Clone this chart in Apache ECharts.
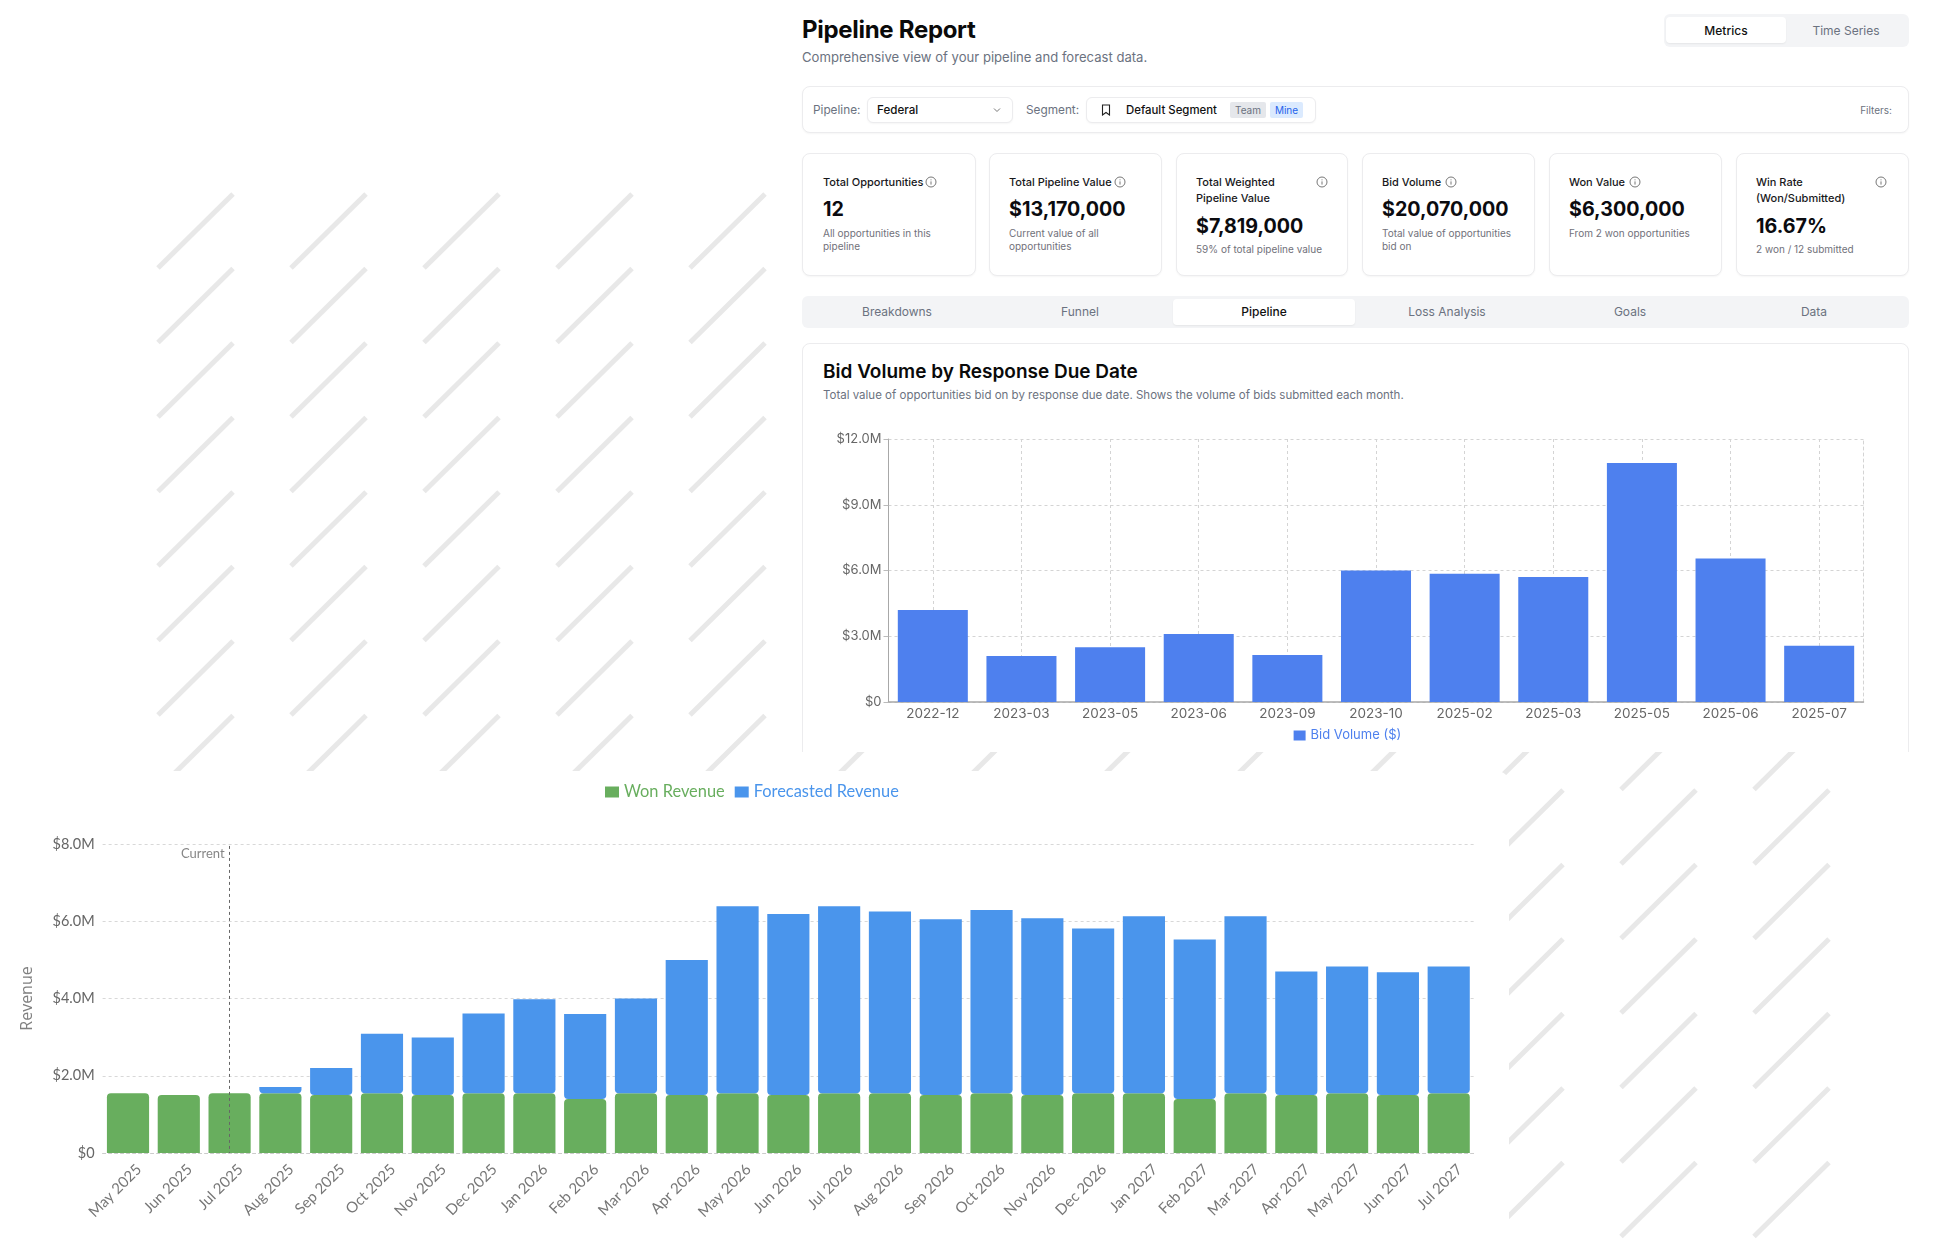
<!DOCTYPE html>
<html>
<head>
<meta charset="utf-8">
<title>Pipeline Report</title>
<script src="https://cdn.jsdelivr.net/npm/echarts@6/dist/echarts.min.js"></script>
<style>
  html, body { margin: 0; padding: 0; background: #fff; }
  body { position: relative; width: 1956px; height: 1248px; overflow: hidden; font-family: Inter, "Noto Sans", sans-serif; color: #111; }
  .abs, .abs > * { position: absolute; }
  .abs { box-sizing: border-box; }
  #stripes { position: absolute; left: 0; top: 0; }
  #topPanel { left: 770px; top: 0; width: 1186px; height: 752px; background: #fff; }
  #bottomPanel { left: 0; top: 771px; width: 1509px; height: 477px; background: #fff; border-radius: 12px; }
  .t { position: absolute; white-space: nowrap; line-height: 1; }
  .box { position: absolute; box-sizing: border-box; background: #fff; border: 1px solid #ececee; border-radius: 8px; box-shadow: 0 1px 2px rgba(0,0,0,.04); }
  .grey { position: absolute; background: #f3f4f6; border-radius: 6px; }
  .on { position: absolute; background: #fff; border-radius: 4px; box-shadow: 0 1px 2px rgba(0,0,0,.06); }
  .c { transform: translateX(-50%); }
  .card-title { font-size: 11px; font-weight: 500; color: #18181b; line-height: 16px; white-space: normal; }
  .card-value { font-size: 19.7px; font-weight: 700; color: #0b0b0f; }
  .card-sub { font-size: 10px; color: #71717a; line-height: 13px; white-space: normal; }
  svg.i { position: absolute; width: 12px; height: 12px; }
</style>
</head>
<body>
<svg id="stripes" width="1956" height="1248"></svg>

<div id="topPanel" class="abs"></div>

<!-- 页头 -->
<div class="t" style="left:802px;top:17px;font-size:24px;font-weight:700;letter-spacing:-.3px;line-height:26px;color:#0a0a0a">Pipeline Report</div>
<div class="t" style="left:802px;top:50px;font-size:13.1px;color:#6b7280;line-height:15px">Comprehensive view of your pipeline and forecast data.</div>
<div class="grey" style="left:1664px;top:14px;width:245px;height:33px"></div>
<div class="on" style="left:1666px;top:17px;width:120px;height:26px"></div>
<div class="t c" style="left:1726px;top:25px;font-size:12px;font-weight:500">Metrics</div>
<div class="t c" style="left:1846px;top:25px;font-size:12px;color:#6b7280">Time Series</div>

<!-- 筛选栏 -->
<div class="box" style="left:802px;top:86px;width:1107px;height:47px"></div>
<div class="t" style="left:813px;top:105px;font-size:11.8px;color:#6b7280">Pipeline:</div>
<div class="box" style="left:867px;top:97px;width:146px;height:26px;border-radius:6px"></div>
<div class="t" style="left:877px;top:105px;font-size:11.6px;font-weight:500">Federal</div>
<svg class="i" style="left:991px;top:104px" viewBox="0 0 12 12"><path d="M3 4.5 L6 7.5 L9 4.5" fill="none" stroke="#777" stroke-width="1"/></svg>
<div class="t" style="left:1026px;top:105px;font-size:11.8px;color:#6b7280">Segment:</div>
<div class="box" style="left:1086px;top:97px;width:230px;height:26px;border-radius:6px"></div>
<svg class="i" style="left:1100px;top:104px" viewBox="0 0 12 12"><path d="M2.5 1 H9.5 V11 L6 8.5 L2.5 11 Z" fill="none" stroke="#222" stroke-width="1.1"/></svg>
<div class="t" style="left:1126px;top:105px;font-size:11.4px;font-weight:500">Default Segment</div>
<div style="position:absolute;left:1230px;top:102px;width:36px;height:16px;background:#e5e7eb;border-radius:2px"></div>
<div class="t c" style="left:1248px;top:105px;font-size:10px;color:#6b7280">Team</div>
<div style="position:absolute;left:1270px;top:102px;width:33px;height:16px;background:#dbeafe;border-radius:2px"></div>
<div class="t c" style="left:1286.5px;top:105px;font-size:10px;color:#2563eb">Mine</div>
<div class="t" style="right:64px;top:105px;font-size:10px;color:#6b7280">Filters:</div>

<!-- 指标卡片 -->
<div class="box" style="left:802px;top:153px;width:174px;height:123px"></div>
<div class="t card-title" style="left:823px;top:174px">Total Opportunities</div>
<svg class="i info" style="left:925px;top:176px" viewBox="0 0 12 12"></svg>
<div class="t card-value" style="left:823px;top:200px">12</div>
<div class="t card-sub" style="left:823px;top:227px;width:130px">All opportunities in this pipeline</div>

<div class="box" style="left:989px;top:153px;width:173px;height:123px"></div>
<div class="t card-title" style="left:1009px;top:174px">Total Pipeline Value</div>
<svg class="i info" style="left:1114px;top:176px" viewBox="0 0 12 12"></svg>
<div class="t card-value" style="left:1009px;top:200px">$13,170,000</div>
<div class="t card-sub" style="left:1009px;top:227px;width:120px">Current value of all opportunities</div>

<div class="box" style="left:1176px;top:153px;width:172px;height:123px"></div>
<div class="t card-title" style="left:1196px;top:174px;width:100px">Total Weighted Pipeline Value</div>
<svg class="i info" style="left:1316px;top:176px" viewBox="0 0 12 12"></svg>
<div class="t card-value" style="left:1196px;top:217px">$7,819,000</div>
<div class="t card-sub" style="left:1196px;top:243px">59% of total pipeline value</div>

<div class="box" style="left:1362px;top:153px;width:173px;height:123px"></div>
<div class="t card-title" style="left:1382px;top:174px">Bid Volume</div>
<svg class="i info" style="left:1445px;top:176px" viewBox="0 0 12 12"></svg>
<div class="t card-value" style="left:1382px;top:200px">$20,070,000</div>
<div class="t card-sub" style="left:1382px;top:227px;width:135px">Total value of opportunities bid on</div>

<div class="box" style="left:1549px;top:153px;width:173px;height:123px"></div>
<div class="t card-title" style="left:1569px;top:174px">Won Value</div>
<svg class="i info" style="left:1629px;top:176px" viewBox="0 0 12 12"></svg>
<div class="t card-value" style="left:1569px;top:200px">$6,300,000</div>
<div class="t card-sub" style="left:1569px;top:227px">From 2 won opportunities</div>

<div class="box" style="left:1736px;top:153px;width:173px;height:123px"></div>
<div class="t card-title" style="left:1756px;top:174px;width:100px">Win Rate (Won/Submitted)</div>
<svg class="i info" style="left:1875px;top:176px" viewBox="0 0 12 12"></svg>
<div class="t card-value" style="left:1756px;top:217px">16.67%</div>
<div class="t card-sub" style="left:1756px;top:243px">2 won / 12 submitted</div>

<!-- 标签页 -->
<div class="grey" style="left:802px;top:296px;width:1107px;height:32px"></div>
<div class="on" style="left:1173px;top:299px;width:182px;height:26px"></div>
<div class="t c" style="left:897px;top:306px;font-size:12px;color:#6b7280">Breakdowns</div>
<div class="t c" style="left:1080px;top:306px;font-size:12px;color:#6b7280">Funnel</div>
<div class="t c" style="left:1264px;top:306px;font-size:12px;font-weight:500">Pipeline</div>
<div class="t c" style="left:1447px;top:306px;font-size:12px;color:#6b7280">Loss Analysis</div>
<div class="t c" style="left:1630px;top:306px;font-size:12px;color:#6b7280">Goals</div>
<div class="t c" style="left:1814px;top:306px;font-size:12px;color:#6b7280">Data</div>

<!-- 上方图表 -->
<div style="position:absolute;left:802px;top:343px;width:1107px;height:409px;overflow:hidden">
  <div class="box" style="left:0;top:0;width:1107px;height:430px"></div>
  <div class="t" style="left:21px;top:19px;font-size:19px;font-weight:600;line-height:20px;color:#0a0a0a">Bid Volume by Response Due Date</div>
  <div class="t" style="left:21px;top:46px;font-size:11.5px;color:#6b7280;line-height:12px">Total value of opportunities bid on by response due date. Shows the volume of bids submitted each month.</div>
  <div id="bidChart" style="position:absolute;left:0;top:70px;width:1107px;height:339px"></div>
</div>

<!-- 下方图表 -->
<div id="bottomPanel" class="abs"><div id="revenueChart" style="left:0;top:0;width:1509px;height:477px"></div></div>

<script>
  //上方柱状图数据（单位：百万美元）
  var bidMonths = ['2022-12','2023-03','2023-05','2023-06','2023-09','2023-10','2025-02','2025-03','2025-05','2025-06','2025-07'];
  var bidVolume = [4.2,2.1,2.5,3.1,2.15,6.0,5.85,5.7,10.9,6.55,2.57];

  //下方堆叠柱状图数据（单位：百万美元）
  var revenueMonths = ['May 2025','Jun 2025','Jul 2025','Aug 2025','Sep 2025','Oct 2025','Nov 2025','Dec 2025','Jan 2026','Feb 2026','Mar 2026','Apr 2026','May 2026','Jun 2026','Jul 2026','Aug 2026','Sep 2026','Oct 2026','Nov 2026','Dec 2026','Jan 2027','Feb 2027','Mar 2027','Apr 2027','May 2027','Jun 2027','Jul 2027'];
  var wonRevenue = [1.55,1.5,1.55,1.55,1.5,1.55,1.5,1.55,1.55,1.4,1.55,1.5,1.55,1.5,1.55,1.55,1.5,1.55,1.5,1.55,1.55,1.4,1.55,1.5,1.55,1.5,1.55];
  var forecastRevenue = [0,0,0,0.16,0.7,1.54,1.49,2.06,2.43,2.2,2.45,3.5,4.84,4.69,4.84,4.7,4.55,4.74,4.58,4.26,4.58,4.13,4.58,3.2,3.28,3.18,3.28];
  var currentMonth = 'Jul 2025';

  var moneyLabel = function(v){
    return v === 0 ? '$0' : '$' + v.toFixed(1) + 'M';
  };

  //背景斜线
  var svgNS = 'http://www.w3.org/2000/svg', stripes = document.getElementById('stripes');
  for(var i = 0; i < 13; i++){
    for(var j = 0; j < 14; j++){
      var x0 = 158 + 133 * i, y0 = 268 + 74.5 * j, line = document.createElementNS(svgNS, 'line');
      line.setAttribute('x1', x0);
      line.setAttribute('y1', y0);
      line.setAttribute('x2', x0 + 75);
      line.setAttribute('y2', y0 - 74);
      line.setAttribute('stroke', '#e8e8e8');
      line.setAttribute('stroke-width', 5);
      stripes.appendChild(line);
    }
  }

  //信息图标
  var infos = document.querySelectorAll('svg.info');
  for(var k = 0; k < infos.length; k++){
    infos[k].innerHTML = '<circle cx="6" cy="6" r="5" fill="none" stroke="#777" stroke-width="1"/><path d="M6 5.4 V8.6 M6 3.4 V4.3" stroke="#777" stroke-width="1"/>';
  }

  //Bid Volume 图
  var bidChart = echarts.init(document.getElementById('bidChart'));
  bidChart.setOption({
    animation: false,
    textStyle: { fontFamily: 'Inter' },
    grid: { left: 86.5, top: 26, width: 975, height: 263 },
    legend: {
      data: ['Bid Volume ($)'],
      left: 491.6, top: 316, padding: 0,
      icon: 'rect', itemWidth: 12, itemHeight: 10, itemGap: 4,
      textStyle: { color: '#4e80ee', fontSize: 13, fontFamily: 'Inter' }
    },
    xAxis: {
      type: 'category',
      data: bidMonths,
      axisLine: { lineStyle: { color: '#a8a8a8', width: 1.5 } },
      axisTick: { alignWithLabel: true, length: 5, lineStyle: { color: '#bbb' } },
      axisLabel: { color: '#666', fontSize: 13.5, margin: 5, interval: 0 },
      splitLine: { show: true, alignWithLabel: true, lineStyle: { color: '#d4d4d4', type: [3, 3] } }
    },
    yAxis: [{
      type: 'value', min: 0, max: 12, interval: 3,
      axisLine: { show: true, lineStyle: { color: '#a8a8a8' } },
      axisTick: { show: true, length: 5, lineStyle: { color: '#bbb' } },
      axisLabel: { color: '#666', fontSize: 13, margin: 7, formatter: moneyLabel },
      splitLine: { lineStyle: { color: '#d4d4d4', type: [3, 3] } }
    }, {
      type: 'value', min: 0, max: 12, interval: 3, position: 'right',
      axisLine: { show: true, lineStyle: { color: '#d4d4d4', type: [3, 3] } },
      axisTick: { show: false }, axisLabel: { show: false }, splitLine: { show: false }
    }],
    series: [{
      name: 'Bid Volume ($)',
      type: 'bar',
      data: bidVolume,
      barWidth: '79%',
      itemStyle: { color: '#4e80ee' }
    }]
  });

  //Revenue 图
  var revenueChart = echarts.init(document.getElementById('revenueChart'));
  revenueChart.setOption({
    animation: false,
    textStyle: { fontFamily: 'Lato' },
    grid: { left: 102.6, top: 73, width: 1371.5, height: 309 },
    legend: {
      left: 605, top: 13, padding: 0,
      icon: 'rect', itemWidth: 14, itemHeight: 11, itemGap: 10,
      textStyle: { fontFamily: 'Lato', fontSize: 16.4 },
      data: [
        { name: 'Won Revenue', textStyle: { color: '#68ae5e' } },
        { name: 'Forecasted Revenue', textStyle: { color: '#4a95ec' } }
      ]
    },
    xAxis: {
      type: 'category',
      data: revenueMonths,
      axisLine: { lineStyle: { color: '#ccc', type: [3, 3] } },
      axisTick: { show: false },
      axisLabel: { color: '#777', fontSize: 15, rotate: 45, margin: 3, interval: 0, verticalAlign: 'top', padding: [8, 0, 0, 0] }
    },
    yAxis: {
      type: 'value', min: 0, max: 8, interval: 2,
      name: 'Revenue', nameLocation: 'middle', nameGap: 67,
      nameTextStyle: { color: '#808080', fontSize: 16, fontFamily: 'Open Sans' },
      axisLine: { show: false },
      axisTick: { show: false },
      axisLabel: { color: '#666', fontSize: 14.5, margin: 8, formatter: moneyLabel },
      splitLine: { lineStyle: { color: '#d8d8d8', type: [3, 3] } }
    },
    series: [{
      name: 'Won Revenue',
      type: 'bar',
      stack: 'revenue',
      data: wonRevenue,
      barWidth: '83%',
      itemStyle: { color: '#68ae5e', borderRadius: [4, 4, 0, 0] },
      markLine: {
        silent: true, symbol: 'none', animation: false,
        lineStyle: { color: '#666', type: [3, 3], width: 1 },
        label: { show: false },
        data: [[{ coord: [currentMonth, 7.95] }, { coord: [currentMonth, 0] }]]
      }
    }, {
      name: 'Forecasted Revenue',
      type: 'bar',
      stack: 'revenue',
      data: forecastRevenue,
      barWidth: '83%',
      itemStyle: { color: '#4a95ec', borderRadius: [0, 0, 4, 4] }
    }, {
      name: 'Current',
      type: 'scatter',
      data: [[currentMonth, 7.75]],
      symbolSize: 0,
      silent: true,
      label: { show: true, position: 'left', distance: 5, formatter: 'Current', color: '#666', fontSize: 13, fontFamily: 'Lato' }
    }]
  });
</script>
</body>
</html>
